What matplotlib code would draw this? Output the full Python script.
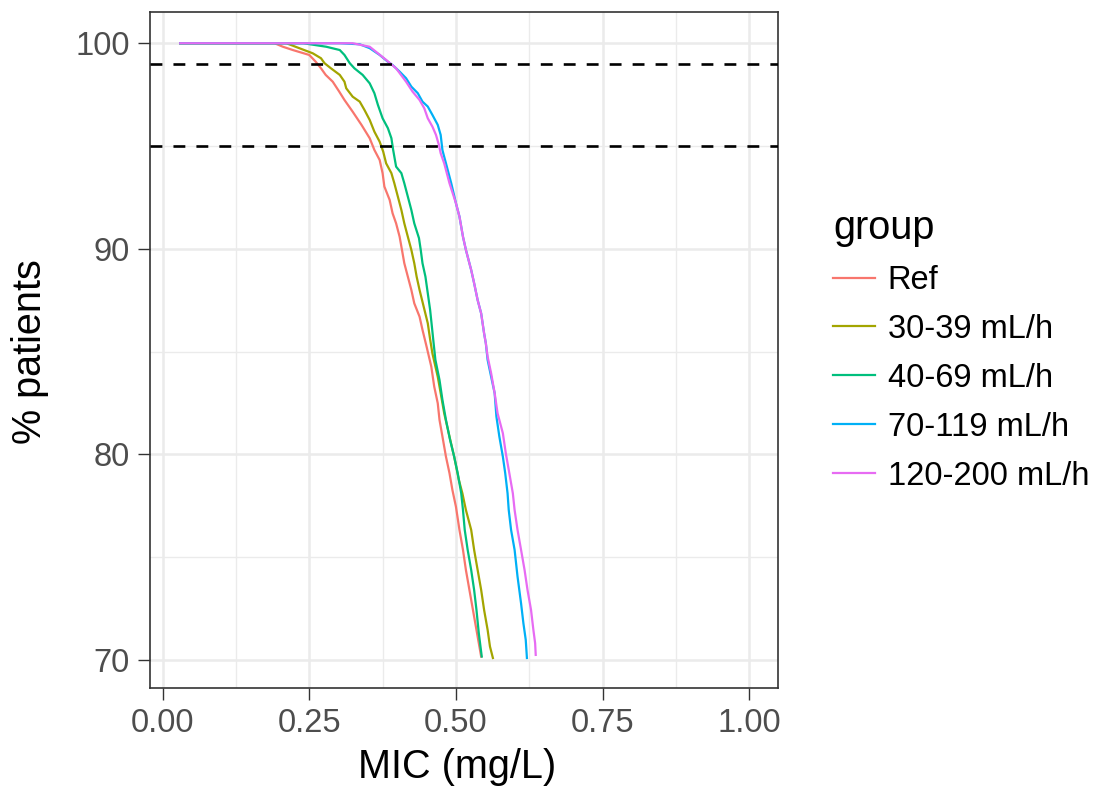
import matplotlib
matplotlib.use("Agg")
import matplotlib.pyplot as plt
from matplotlib.ticker import FixedLocator

plt.rcParams['font.family'] = ['Liberation Sans', 'DejaVu Sans']

# ---------------- data ----------------
groups = ["Ref", "30-39 mL/h", "40-69 mL/h", "70-119 mL/h", "120-200 mL/h"]
colors = ["#F8766D", "#A3A500", "#00BF7D", "#00B0F6", "#E76BF3"]

ref_mic = [0.03, 0.191, 0.205, 0.222, 0.250, 0.261, 0.270, 0.278, 0.290, 0.301, 0.310,
           0.324, 0.339, 0.353, 0.361, 0.370, 0.375, 0.378, 0.387, 0.392, 0.398, 0.404,
           0.408, 0.412, 0.418, 0.424, 0.429, 0.438, 0.443, 0.450, 0.458, 0.463, 0.469,
           0.472, 0.477, 0.483, 0.489, 0.494, 0.500, 0.506, 0.512, 0.517, 0.522, 0.528,
           0.537, 0.543]
ref_pct = [100, 100, 99.83, 99.67, 99.43, 99.10, 98.78, 98.46, 98.13, 97.65, 97.24,
           96.67, 96.03, 95.38, 94.81, 94.32, 93.68, 93.03, 92.38, 91.73, 91.24, 90.59,
           89.95, 89.30, 88.65, 88.00, 87.35, 86.70, 86.06, 85.24, 84.27, 83.30, 82.49,
           81.68, 80.87, 79.89, 79.09, 78.27, 77.46, 76.33, 75.36, 74.38, 73.57, 72.60,
           71.14, 70.17]

g30_mic = [0.03, 0.211, 0.233, 0.256, 0.270, 0.276, 0.287, 0.302, 0.310, 0.313, 0.324,
           0.336, 0.344, 0.353, 0.361, 0.370, 0.376, 0.381, 0.390, 0.395, 0.401, 0.407,
           0.412, 0.418, 0.424, 0.429, 0.433, 0.438, 0.445, 0.452, 0.456, 0.460, 0.469,
           0.474, 0.480, 0.489, 0.497, 0.505, 0.511, 0.517, 0.526, 0.531, 0.537, 0.543,
           0.548, 0.554, 0.558, 0.563]
g30_pct = [100, 100, 99.76, 99.51, 99.27, 99.03, 98.78, 98.46, 98.13, 97.81, 97.40,
           97.16, 96.76, 96.27, 95.70, 95.21, 94.73, 94.16, 93.68, 93.19, 92.54, 91.89,
           91.24, 90.59, 89.95, 89.30, 88.65, 88.00, 87.19, 86.38, 85.60, 84.90, 83.78,
           82.98, 82.00, 80.87, 79.89, 78.76, 78.11, 77.30, 76.33, 75.36, 74.38, 73.41,
           72.44, 71.47, 70.66, 70.10]

g40_mic = [0.03, 0.240, 0.279, 0.302, 0.310, 0.319, 0.327, 0.341, 0.353, 0.361, 0.367,
           0.375, 0.384, 0.390, 0.393, 0.398, 0.407, 0.412, 0.418, 0.424, 0.429, 0.437,
           0.440, 0.443, 0.448, 0.452, 0.456, 0.459, 0.462, 0.465, 0.472, 0.477, 0.483,
           0.490, 0.497, 0.503, 0.509, 0.512, 0.515, 0.520, 0.526, 0.531, 0.535, 0.539,
           0.544]
g40_pct = [100, 100, 99.83, 99.67, 99.43, 99.03, 98.78, 98.46, 98.05, 97.57, 97.00,
           96.35, 95.87, 95.38, 94.81, 94.00, 93.68, 93.19, 92.54, 91.89, 91.24, 90.52,
           89.95, 89.30, 88.65, 87.84, 87.03, 86.22, 85.40, 84.60, 83.62, 82.65, 81.68,
           80.71, 79.89, 79.09, 78.11, 77.30, 76.33, 75.36, 74.38, 73.41, 72.44, 71.30,
           70.17]

g70_mic = [0.03, 0.302, 0.336, 0.353, 0.370, 0.384, 0.392, 0.404, 0.415, 0.424, 0.435,
           0.443, 0.452, 0.460, 0.469, 0.474, 0.477, 0.483, 0.492, 0.500, 0.506, 0.512,
           0.517, 0.526, 0.531, 0.537, 0.543, 0.548, 0.551, 0.554, 0.560, 0.566, 0.569,
           0.574, 0.580, 0.584, 0.588, 0.590, 0.594, 0.600, 0.605, 0.611, 0.615, 0.619,
           0.621]
g70_pct = [100, 100, 99.95, 99.76, 99.43, 99.10, 98.94, 98.62, 98.30, 97.89, 97.57,
           97.16, 96.92, 96.51, 96.03, 95.54, 94.80, 94.16, 93.19, 92.22, 91.57, 90.59,
           89.95, 88.97, 88.33, 87.51, 86.86, 85.89, 85.40, 84.60, 83.78, 82.98, 81.84,
           80.87, 79.89, 79.09, 78.11, 77.30, 76.33, 75.36, 74.06, 72.76, 71.79, 70.98,
           70.10]

g120_mic = [0.03, 0.324, 0.353, 0.367, 0.381, 0.398, 0.415, 0.426, 0.438, 0.446, 0.452,
            0.460, 0.466, 0.471, 0.474, 0.480, 0.489, 0.500, 0.506, 0.512, 0.517, 0.526,
            0.531, 0.537, 0.543, 0.548, 0.551, 0.554, 0.560, 0.566, 0.571, 0.580, 0.585,
            0.591, 0.597, 0.600, 0.605, 0.611, 0.617, 0.622, 0.628, 0.632, 0.635, 0.636]
g120_pct = [100, 100, 99.83, 99.51, 99.19, 98.78, 98.13, 97.65, 97.24, 96.84, 96.35,
            95.94, 95.54, 95.05, 94.65, 94.16, 93.19, 92.22, 91.57, 90.59, 89.95, 88.97,
            88.33, 87.51, 86.86, 85.89, 85.40, 84.76, 83.95, 82.98, 82.00, 81.03, 80.06,
            79.09, 78.11, 77.30, 76.33, 75.36, 74.38, 73.41, 72.44, 71.47, 70.82, 70.25]

series_mic = [ref_mic, g30_mic, g40_mic, g70_mic, g120_mic]
series_pct = [ref_pct, g30_pct, g40_pct, g70_pct, g120_pct]

thresholds = [99, 95]
x_ticks = [0.0, 0.25, 0.50, 0.75, 1.00]
x_tick_labels = ["0.00", "0.25", "0.50", "0.75", "1.00"]
x_minor = [0.125, 0.375, 0.625, 0.875]
y_ticks = [70, 80, 90, 100]
y_minor = [75, 85, 95]

# ---------------- figure ----------------
W, H = 1102, 790
fig = plt.figure(figsize=(W / 100, H / 100), dpi=100)
ax = fig.add_axes([150 / W, (H - 688) / H, 628 / W, 676 / H])

grid_col = "#EBEBEB"
ax.set_axisbelow(True)
ax.xaxis.set_major_locator(FixedLocator(x_ticks))
ax.xaxis.set_minor_locator(FixedLocator(x_minor))
ax.yaxis.set_major_locator(FixedLocator(y_ticks))
ax.yaxis.set_minor_locator(FixedLocator(y_minor))
ax.set_xticklabels(x_tick_labels)
ax.grid(which="major", color=grid_col, lw=1.8)
ax.grid(which="minor", color=grid_col, lw=1.0)

handles = []
for mic, pct, col, lab in zip(series_mic, series_pct, colors, groups):
    ln, = ax.plot(mic, pct, color=col, lw=1.6, label=lab, zorder=3,
                  solid_joinstyle="miter")
    handles.append(ln)

for t in thresholds:
    ax.axhline(t, color="black", lw=1.9, dashes=(4.5, 4.2), zorder=4)

ax.set_xlim(-0.0215, 1.049)
ax.set_ylim(68.64, 101.52)

for s in ax.spines.values():
    s.set_color("#333333")
    s.set_linewidth(1.2)

ax.tick_params(which="major", length=8.4, width=1.0, color="#333333",
               labelcolor="#4D4D4D", labelsize=23.5)
ax.tick_params(axis="x", which="major", pad=6)
ax.tick_params(axis="y", which="major", pad=6)
ax.tick_params(which="minor", length=0)

fig.text(457 / W, 1 - 778 / H, "MIC (mg/L)", ha="center", va="baseline",
         fontsize=28.5, color="black")
fig.text(30 / W, 1 - 352 / H, "% patients", ha="center", va="center",
         rotation=90, fontsize=28.5, color="black")

leg = ax.legend(handles=handles, labels=groups, title="group",
                loc="upper left", bbox_to_anchor=(833 / W, 1 - 209 / H),
                bbox_transform=fig.transFigure, frameon=False,
                fontsize=23.5, title_fontsize=28.5, handlelength=1.3,
                handletextpad=0.38, labelspacing=0.55, borderpad=0,
                borderaxespad=0, alignment="left")

fig.savefig("out.png", dpi=100)
